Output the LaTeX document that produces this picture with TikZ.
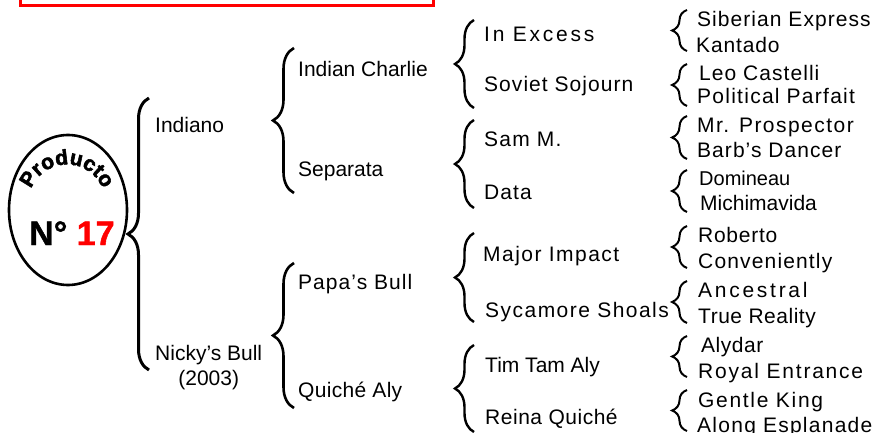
\documentclass[tikz,border=0pt]{standalone}
\usepackage{fontspec}
\setmainfont{Liberation Sans}
\newfontfamily\heavyfont[FakeBold=2.5]{Liberation Sans Bold}
\newfontfamily\numfont[FakeBold=1.2]{Liberation Sans Bold}
\usetikzlibrary{decorations.pathreplacing,decorations.text}
\newcommand\LS[2]{{\addfontfeature{LetterSpace=#1}#2}}
\tikzset{
  lbl/.style={anchor=base west, inner sep=0pt, font=\fontsize{21}{25}\selectfont},
  br/.style={decorate, decoration={brace, amplitude=#1}},
  bone/.style={br=21, line width=3pt},
  btwo/.style={br=21, line width=2.6pt},
  bthree/.style={br=19, line width=2.4pt},
  bfour/.style={br=15, line width=2pt},
}
\begin{document}
\begin{tikzpicture}[x=1pt,y=1pt]
\useasboundingbox (0,0) rectangle (877,-433);
\clip (0,0) rectangle (877,-433);
\fill[white] (0,0) rectangle (877,-433);
% red frame (cropped)
\draw[red, line width=2.7pt] (20.7,30) rectangle (433.7,-5.3);
% emblem
\draw[line width=2.6pt] (68,-210) ellipse [x radius=59, y radius=75];
\path[decorate, decoration={text along path, text align=center,
  text={|\heavyfont\fontsize{21}{22}\selectfont|Producto}}]
  (67,-203) ++(178:38.5) arc[start angle=178, end angle=2, radius=38.5];
\node[anchor=base west, inner sep=0pt, font=\numfont\fontsize{34}{34}\selectfont] (num) at (29,-245) {N° \textcolor{red}{17}};
% level 1
\draw[bone] (149,-370) -- (149,-98);
\node[lbl] (indiano) at (155,-132) {Indiano};
\node[lbl] (nicky) at (155,-360) {\begin{tabular}[t]{@{}c@{}}Nicky’s Bull\\(2003)\end{tabular}};
% level 2
\draw[btwo] (294,-193) -- (294,-48);
\draw[btwo] (294,-408) -- (294,-263);
\node[lbl] (charlie) at (298,-77) {Indian Charlie};
\node[lbl] (separata) at (298,-176) {Separata};
\node[lbl] (papa) at (298,-289) {\LS{5}{Papa’s Bull}};
\node[lbl] (quiche) at (298,-397) {\LS{1.5}{Quiché Aly}};
% level 3
\draw[bthree] (474,-108) -- (474,-20);
\draw[bthree] (474,-208) -- (474,-120);
\draw[bthree] (474,-322) -- (474,-233);
\draw[bthree] (474,-432) -- (474,-345);
\node[lbl] (excess) at (484,-42) {\LS{13}{In Excess}};
\node[lbl] (soviet) at (484,-92) {\LS{5}{Soviet Sojourn}};
\node[lbl] (sam) at (484,-146) {\LS{6}{Sam M.}};
\node[lbl] (data) at (484,-199) {\LS{5}{Data}};
\node[lbl] (major) at (483,-261) {\LS{7}{Major Impact}};
\node[lbl] (sycamore) at (485,-317) {\LS{7}{Sycamore Shoals}};
\node[lbl] (timtam) at (485,-372) {Tim Tam Aly};
\node[lbl] (reina) at (485,-424) {\LS{2.5}{Reina Quiché}};
% level 4
\draw[bfour] (687,-51) -- (687,-10);
\draw[bfour] (687,-106) -- (687,-64);
\draw[bfour] (687,-159) -- (687,-116);
\draw[bfour] (687,-212) -- (687,-170);
\draw[bfour] (687,-268) -- (687,-226);
\draw[bfour] (687,-323) -- (687,-281);
\draw[bfour] (687,-377) -- (687,-336);
\draw[bfour] (687,-431) -- (687,-390);
\node[lbl] (siberian) at (697,-27) {\LS{5}{Siberian Express}};
\node[lbl] (kantado) at (696,-53) {\LS{4}{Kantado}};
\node[lbl] (leo) at (699,-81) {\LS{5}{Leo Castelli}};
\node[lbl] (political) at (697,-104) {\LS{6}{Political Parfait}};
\node[lbl] (prospector) at (697,-132) {\LS{7}{Mr. Prospector}};
\node[lbl] (barb) at (697,-157) {\LS{5}{Barb’s Dancer}};
\node[lbl, font=\fontsize{20}{24}\selectfont] (domineau) at (699,-185) {Domineau};
\node[lbl] (michi) at (700,-210) {Michimavida};
\node[lbl] (roberto) at (698,-242) {\LS{3.5}{Roberto}};
\node[lbl] (conv) at (698,-268) {\LS{5.5}{Conveniently}};
\node[lbl] (ancestral) at (698,-297) {\LS{13}{Ancestral}};
\node[lbl] (true) at (698,-323) {\LS{2.5}{True Reality}};
\node[lbl] (alydar) at (701,-352) {\LS{2.5}{Alydar}};
\node[lbl] (royal) at (698,-378) {\LS{8.5}{Royal Entrance}};
\node[lbl] (gentle) at (698,-407) {\LS{8}{Gentle King}};
\node[lbl] (along) at (697,-432) {\LS{6}{Along Esplanade}};
\end{tikzpicture}
\end{document}
